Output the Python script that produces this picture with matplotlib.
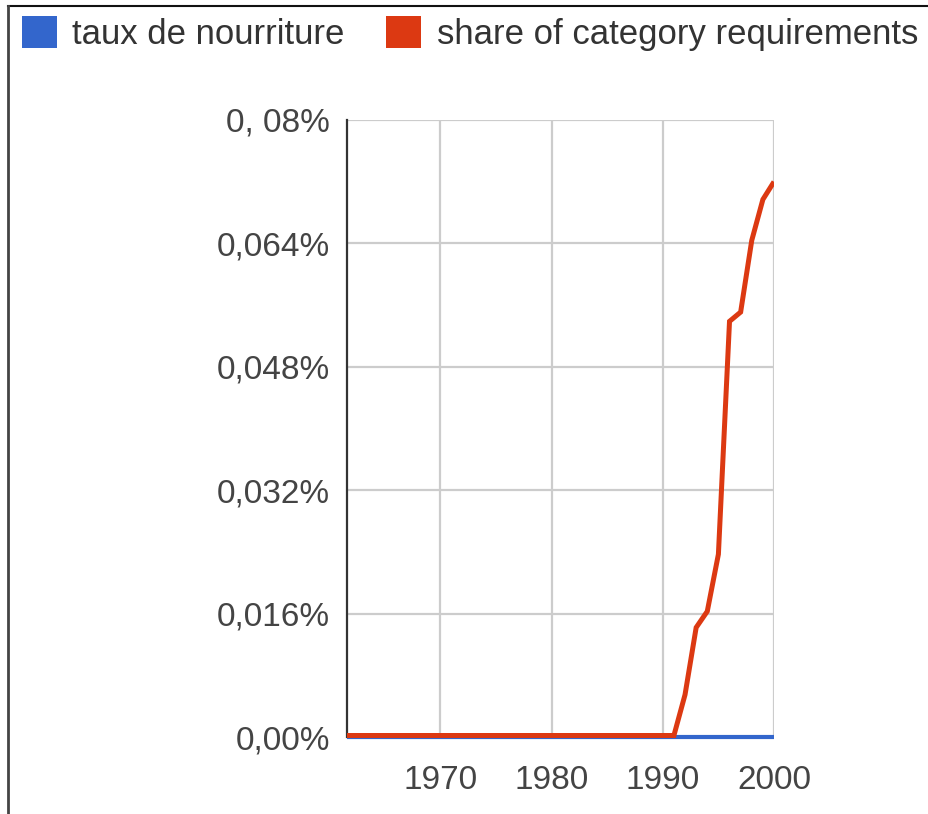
import matplotlib
matplotlib.use("Agg")
import matplotlib.pyplot as plt
import matplotlib.transforms as mtransforms
from matplotlib.patches import Patch, Rectangle
from matplotlib.lines import Line2D

plt.rcParams['font.family'] = ['Liberation Sans', 'DejaVu Sans']

# data (percent values)
years = list(range(1961, 2001))
taux = [0.0] * len(years)
share = [0.0] * 31 + [0.0053, 0.0140, 0.0161, 0.0235, 0.0537,
                      0.0549, 0.0642, 0.0695, 0.0718]
series_names = ["taux de nourriture", "share of category requirements"]
yticks = [0.0, 0.016, 0.032, 0.048, 0.064, 0.08]
ytick_labels = ["0,00%", "0,016%", "0,032%", "0,048%", "0,064%", "0, 08%"]
xticks = [1970, 1980, 1990, 2000]

blue = "#3366cc"
red = "#dc3912"

fig = plt.figure(figsize=(9.29, 8.14), dpi=100)
ax = fig.add_axes([347 / 929, 1 - 737 / 814, 427 / 929, 617 / 814])

# clip only left/right, let the zero lines hang below the axis a bit
clip = Rectangle((0, -0.05), 1, 1.1, transform=ax.transAxes,
                 facecolor='none', edgecolor='none')
red_tr = mtransforms.offset_copy(ax.transData, fig=fig, x=0, y=1.5,
                                 units='dots')

l1, = ax.plot(years, taux, color=blue, lw=3.0, zorder=3,
              solid_capstyle='butt')
l2, = ax.plot(years, share, color=red, lw=3.6, zorder=4, transform=red_tr,
              solid_capstyle='butt', solid_joinstyle='miter')
for ln in (l1, l2):
    ln.set_clip_path(clip)

ax.set_xlim(1961.6, 2000)
ax.set_ylim(0, 0.08)
ax.set_xticks(xticks)
ax.set_xticklabels([str(x) for x in xticks])
ax.set_yticks(yticks)
ax.set_yticklabels(ytick_labels)
ax.tick_params(length=0, labelsize=24, colors="#444444")
ax.tick_params(axis='x', pad=20)
ax.tick_params(axis='y', pad=12)
ax.grid(True, color="#cccccc", lw=1.6)
ax.set_axisbelow(True)
for s in ['top', 'right', 'bottom']:
    ax.spines[s].set_visible(False)
ax.spines['left'].set_color("#333333")
ax.spines['left'].set_linewidth(1.6)

handles = [Patch(facecolor=blue, edgecolor='none'),
           Patch(facecolor=red, edgecolor='none')]
fig.legend(handles, series_names, loc='upper left',
           bbox_to_anchor=(22 / 929, 1 - 16 / 814), ncol=2, frameon=False,
           fontsize=25, handlelength=1.0, handleheight=1.05,
           handletextpad=0.45, columnspacing=1.2, borderpad=0,
           borderaxespad=0, labelcolor="#333333")

# screenshot border
fig.add_artist(Line2D([8 / 929, 1], [1 - 6 / 814, 1 - 6 / 814],
                      color="#111111", lw=1.5))
fig.add_artist(Line2D([8 / 929, 8 / 929], [0, 1 - 6 / 814],
                      color="#444444", lw=2))

fig.savefig("out.png", dpi=100)
